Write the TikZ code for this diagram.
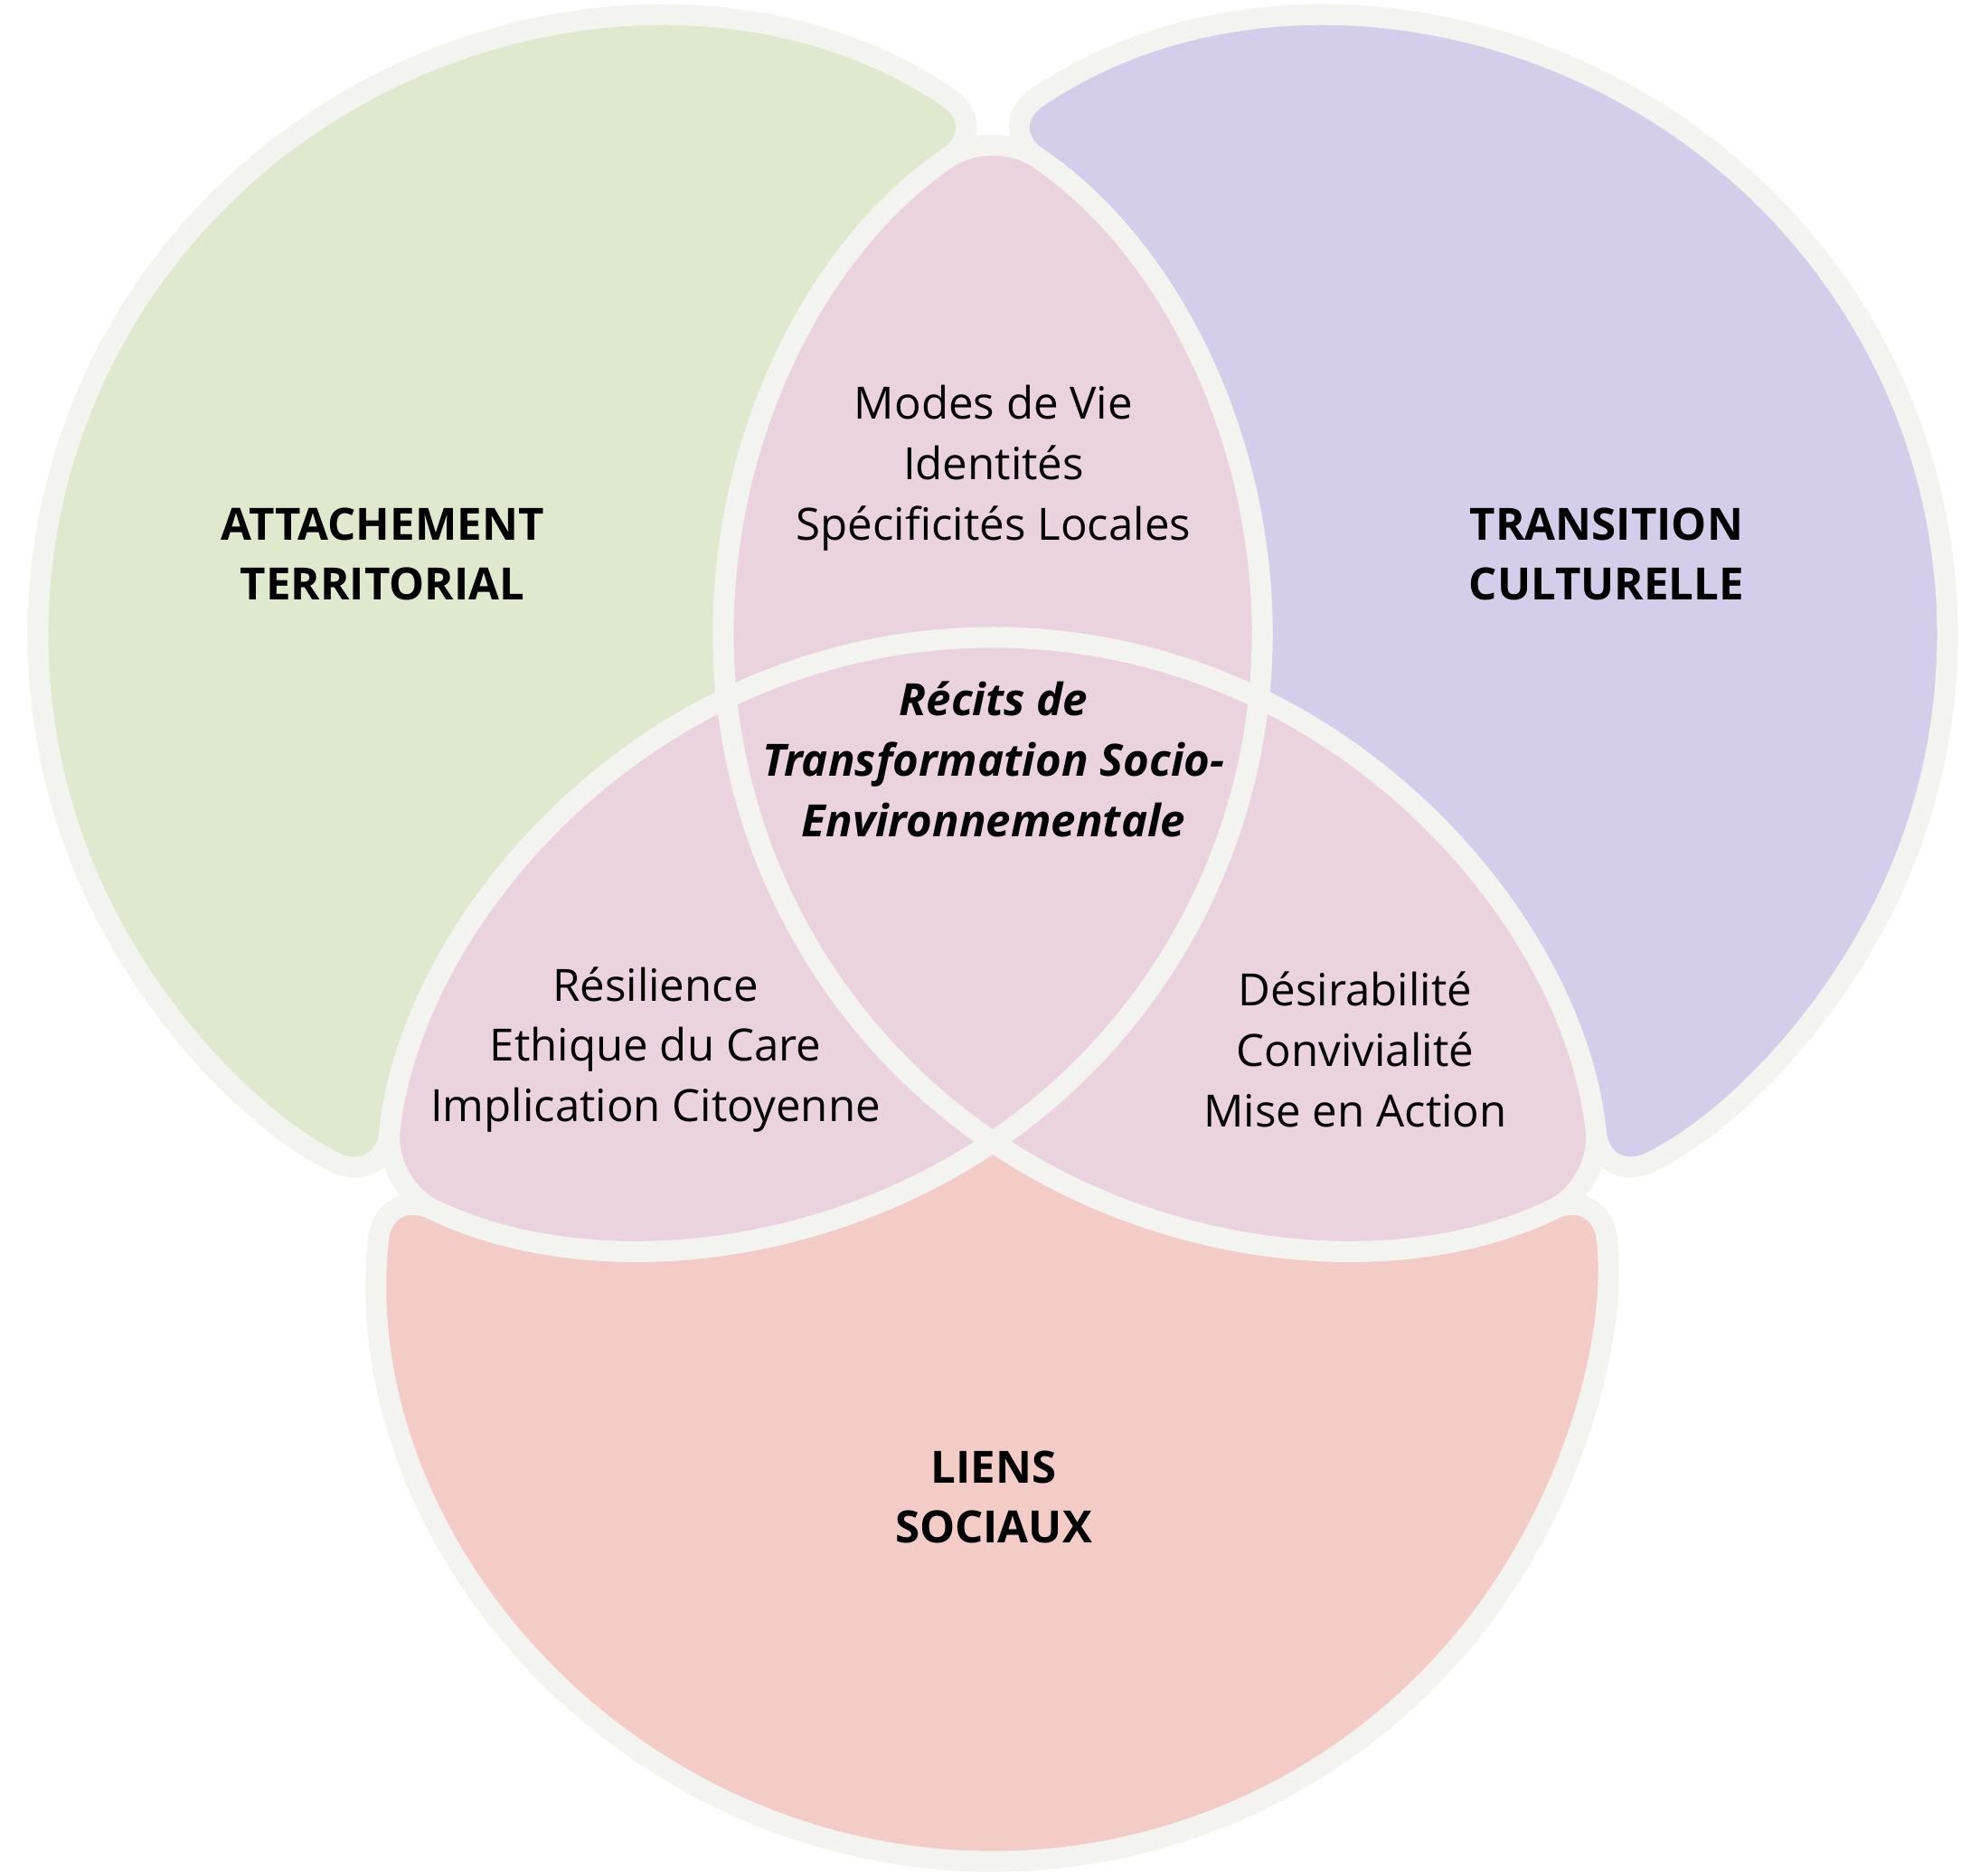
\documentclass[tikz,border=0pt]{standalone}
\usepackage{fontspec}
\setmainfont{Open Sans}
\usepackage{tikz}
\usetikzlibrary{positioning}

\definecolor{vertclair}{RGB}{222,233,206}
\definecolor{violetclair}{RGB}{212,206,234}
\definecolor{roseclair}{RGB}{234,210,222}
\definecolor{saumon}{RGB}{243,204,199}
\definecolor{blanccasse}{RGB}{243,243,239}

\newcommand{\police}{\fontsize{14}{19}\selectfont}
\newcommand{\rayon}{6.77}

\tikzset{
    zone/.style={fill=#1, draw=blanccasse, line width=2.3mm, line join=round},
    sep/.style={draw=blanccasse, line width=2.3mm, line join=round},
    liste/.style={align=center, font=\police},
    titre/.style={align=center, font=\police\bfseries},
    recit/.style={align=center, font=\police\bfseries\itshape},
    arrondi/.style={rounded corners=6mm}
}

\begin{document}
\begin{tikzpicture}
        \useasboundingbox (0,0) rectangle (21.9,20.74);
        \fill[white] (0,0) rectangle (21.9,20.74);
        % centres des cercles et points de croisement
        \coordinate (A) at (7.19,13.72);
        \coordinate (B) at (14.77,13.72);
        \coordinate (C) at (10.98,6.92);
        \coordinate (T) at (10.98,19.3297);
        \coordinate (M) at (10.98,8.1103);
        \coordinate (L) at (4.2466,7.6233);
        \coordinate (R) at (17.7134,7.6233);
        \coordinate (QA) at (13.9234,13.0167);
        \coordinate (QB) at (8.0366,13.0167);

        % zones
        \path[zone=vertclair] (QB) [arrondi] arc[start angle=185.963, end angle=124.046, radius=\rayon]
            arc[start angle=55.954, end angle=244.225, radius=\rayon]
            [sharp corners] arc[start angle=174.037, end angle=115.775, radius=\rayon]
            -- cycle;
        \path[zone=violetclair] (QA) [arrondi] arc[start angle=-5.963, end angle=55.954, radius=\rayon]
            arc[start angle=124.046, end angle=-64.225, radius=\rayon]
            [sharp corners] arc[start angle=5.963, end angle=64.225, radius=\rayon]
            -- cycle;
        \path[zone=saumon] (M) [arrondi] arc[start angle=-55.954, end angle=-115.775, radius=\rayon]
            arc[start angle=174.037, end angle=365.963, radius=\rayon]
            [sharp corners] arc[start angle=-64.225, end angle=-124.046, radius=\rayon]
            -- cycle;
        \path[zone=roseclair] (QA) [arrondi] arc[start angle=-5.963, end angle=55.954, radius=\rayon]
            [sharp corners] arc[start angle=124.046, end angle=185.963, radius=\rayon]
            [arrondi] arc[start angle=115.775, end angle=174.037, radius=\rayon]
            [sharp corners] arc[start angle=244.225, end angle=304.046, radius=\rayon]
            [arrondi] arc[start angle=235.954, end angle=295.775, radius=\rayon]
            [sharp corners] arc[start angle=5.963, end angle=64.225, radius=\rayon]
            -- cycle;

        % traits internes
        \path[sep] (QB) arc[start angle=185.963, end angle=235.954, radius=\rayon];
        \path[sep] (QA) arc[start angle=-5.963, end angle=-55.954, radius=\rayon];
        \path[sep] (QA) arc[start angle=64.225, end angle=115.775, radius=\rayon];

        % textes
        \node[liste] (modes) at (10.99,15.56) {Modes de Vie\\Identités\\Spécificités Locales};
        \node[titre] (attachement) at (4.23,14.61) {ATTACHEMENT\\TERRITORIAL};
        \node[titre] (transition) at (17.77,14.61) {TRANSITION\\CULTURELLE};
        \node[recit] (recits) at (10.99,12.34) {Récits de\\Transformation Socio-\\Environnementale};
        \node[liste] (resilience) at (7.25,9.13) {Résilience\\Ethique du Care\\Implication Citoyenne};
        \node[liste] (desirabilite) at (14.99,9.13) {Désirabilité\\Convivialité\\Mise en Action};
        \node[titre] (liens) at (10.99,4.18) {LIENS\\SOCIAUX};
    \end{tikzpicture}
\end{document}
